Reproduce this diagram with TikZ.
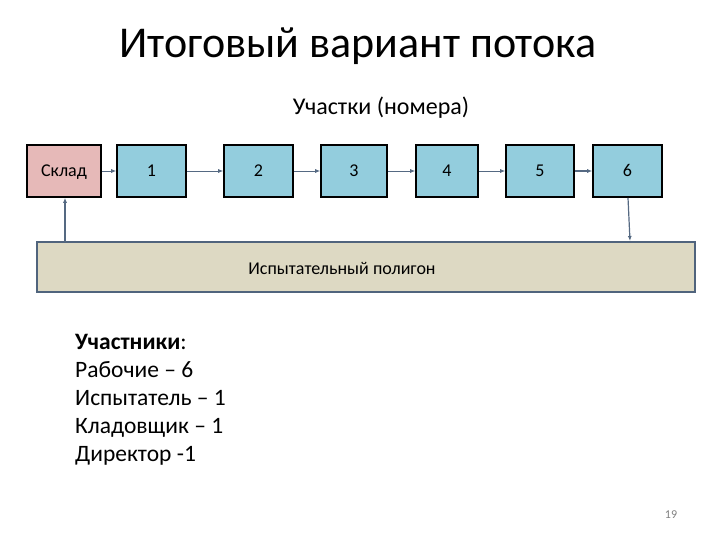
\documentclass[tikz,border=0pt]{standalone}
\usepackage{fontspec}
\setmainfont{Carlito}
\usetikzlibrary{arrows.meta}
\definecolor{skl}{RGB}{230,185,184}
\definecolor{blu}{RGB}{147,205,221}
\definecolor{pol}{RGB}{221,217,195}
\definecolor{polb}{RGB}{80,100,125}
\definecolor{conn}{RGB}{85,105,130}
\begin{document}
\begin{tikzpicture}[x=1pt,y=-1pt,
  box/.style={draw=black,line width=1.6pt,minimum height=52pt,inner sep=0pt,text height=12pt,text depth=0pt,font=\fontsize{18}{20}\selectfont},
  conline/.style={draw=conn,line width=0.8pt,-{Latex[length=5pt,width=4pt]}},
  plist/.style={anchor=base west,inner sep=0pt,font=\fontsize{23.5}{28}\selectfont}]
\useasboundingbox (0,0) rectangle (720,540);
\node[inner sep=0pt,font=\fontsize{44}{50}\selectfont] (title) at (358,46) {Итоговый вариант потока};
\node[inner sep=0pt,font=\fontsize{24}{28}\selectfont] (uch) at (381,108) {Участки (номера)};
\node[box,fill=skl,minimum width=74pt] (s) at (64,171) {Склад};
\node[box,fill=blu,minimum width=69pt] (b1) at (151.5,171) {1};
\node[box,fill=blu,minimum width=69pt] (b2) at (258.5,171) {2};
\node[box,fill=blu,minimum width=66pt] (b3) at (354,171) {3};
\node[box,fill=blu,minimum width=62pt] (b4) at (447,171) {4};
\node[box,fill=blu,minimum width=68pt] (b5) at (540,171) {5};
\node[box,fill=blu,minimum width=69pt] (b6) at (627.5,171) {6};
\node[draw=polb,line width=1.2pt,fill=pol,minimum width=658pt,minimum height=50pt,inner sep=0pt] (p) at (366,267) {};
\node[inner sep=0pt,font=\fontsize{18}{21}\selectfont] (ptext) at (342,268) {Испытательный полигон};
\draw[conline] (s) -- (b1);
\draw[conline] (b1) -- (b2);
\draw[conline] (b2) -- (b3);
\draw[conline] (b3) -- (b4);
\draw[conline] (b4) -- (b5);
\draw[conline,line width=1.4pt] (b5) -- (b6);
\coordinate (pl) at (65,242);
\draw[conline,line width=1.2pt] (pl) -- (s.south -| pl);
\coordinate (b6b) at (628,197.8);
\coordinate (pr) at (630,241);
\draw[conline,line width=1.2pt] (b6b) -- (pr);
\node[plist] (l1) at (75,349) {\textbf{Участники}:};
\node[plist] (l2) at (75,377) {Рабочие – 6};
\node[plist] (l3) at (75,405) {Испытатель – 1};
\node[plist] (l4) at (75,433) {Кладовщик – 1};
\node[plist] (l5) at (75,461) {Директор -1};
\node[inner sep=0pt,text=gray,font=\fontsize{12}{14}\selectfont] (pg) at (671,515) {19};
\end{tikzpicture}
\end{document}
